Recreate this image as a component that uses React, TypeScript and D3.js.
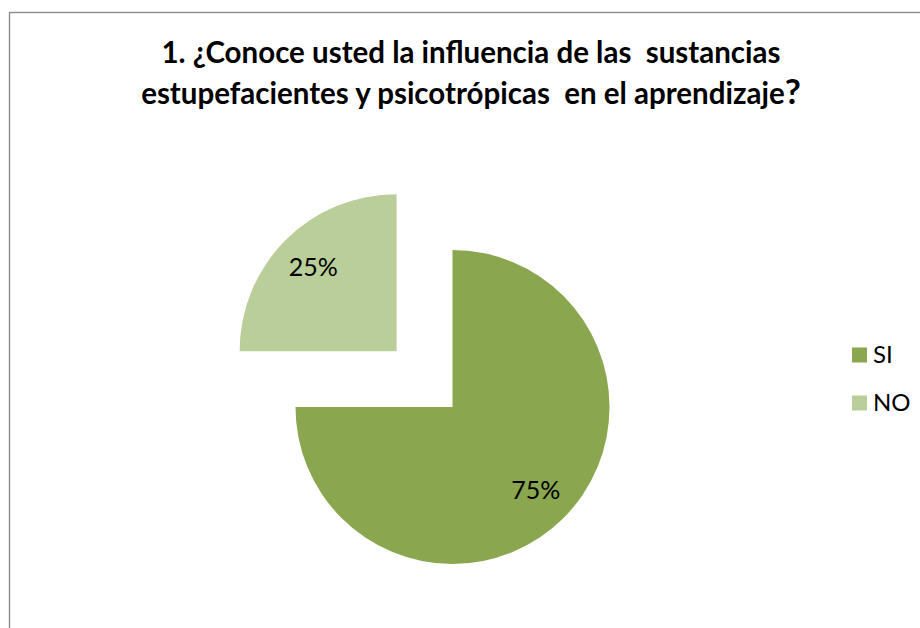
import React, { useEffect, useRef } from "react";
import * as d3 from "d3";

const categories = ["SI", "NO"];
const values = [75, 25];
const colors = ["#8aa64e", "#b9ce98"];
const exploded = [false, true];
const titleLines = ["1. ¿Conoce usted la influencia de las  sustancias", "estupefacientes y psicotrópicas  en el aprendizaje"];

const W = 920;
const H = 628;
const FONT = "Lato, 'Open Sans', sans-serif";

export default function App() {
  const ref = useRef<SVGSVGElement>(null);

  useEffect(() => {
    const svg = d3.select(ref.current);
    svg.selectAll("*").remove();

    // frame of the chart area (runs off the right and bottom of the page)
    svg
      .append("rect")
      .attr("x", 9.5)
      .attr("y", 12.5)
      .attr("width", W + 20)
      .attr("height", H + 20)
      .attr("fill", "#fff")
      .attr("stroke", "#8c8c8c")
      .attr("stroke-width", 1.4);

    // title
    const title = svg
      .append("text")
      .attr("text-anchor", "middle")
      .style("font-family", FONT)
      .style("font-weight", "bold")
      .style("font-size", "29.5px")
      .style("white-space", "pre")
      .attr("fill", "#000");
    title.append("tspan").attr("x", 471).attr("y", 63).text(titleLines[0]);
    title.append("tspan").attr("x", 471).attr("y", 104).text(titleLines[1]);
    title.append("tspan").style("font-size", "35px").text("?");

    const cx = 452.5;
    const cy = 407;
    const r = 157;
    const explode = 79;

    const pie = d3
      .pie<number>()
      .sort(null)
      .value((d) => d)
      .startAngle(0)
      .endAngle(2 * Math.PI);
    const arcs = pie(values);
    const arc = d3.arc<d3.PieArcDatum<number>>().innerRadius(0).outerRadius(r);
    const labelArc = d3.arc<d3.PieArcDatum<number>>().innerRadius(r * 0.75).outerRadius(r * 0.75);

    const g = svg.append("g").attr("transform", `translate(${cx},${cy})`);

    const slices = g
      .selectAll("g.slice")
      .data(arcs)
      .enter()
      .append("g")
      .attr("class", "slice")
      .attr("transform", (d, i) => {
        if (!exploded[i]) return null;
        const a = (d.startAngle + d.endAngle) / 2;
        return `translate(${Math.sin(a) * explode},${-Math.cos(a) * explode})`;
      });

    slices
      .append("path")
      .attr("d", arc)
      .attr("fill", (d, i) => colors[i]);

    slices
      .append("text")
      .attr("transform", (d) => `translate(${labelArc.centroid(d)})`)
      .attr("text-anchor", "middle")
      .attr("dy", "0.33em")
      .style("font-family", FONT)
      .style("font-size", "25px")
      .attr("fill", "#000")
      .text((d) => `${Math.round((d.value / d3.sum(values)) * 100)}%`);

    // legend
    const legend = svg
      .append("g")
      .selectAll("g")
      .data(categories)
      .enter()
      .append("g")
      .attr("transform", (d, i) => `translate(852,${355 + i * 48})`);

    legend
      .append("rect")
      .attr("x", 0)
      .attr("y", -7.5)
      .attr("width", 15)
      .attr("height", 15)
      .attr("fill", (d, i) => colors[i]);

    legend
      .append("text")
      .attr("x", 21)
      .attr("dy", "0.35em")
      .style("font-family", FONT)
      .style("font-size", "24px")
      .attr("fill", "#000")
      .text((d) => d);
  }, []);

  return (
    <svg
      ref={ref}
      width={W}
      height={H}
      style={{ position: "absolute", left: 0, top: 0, display: "block" }}
    />
  );
}
